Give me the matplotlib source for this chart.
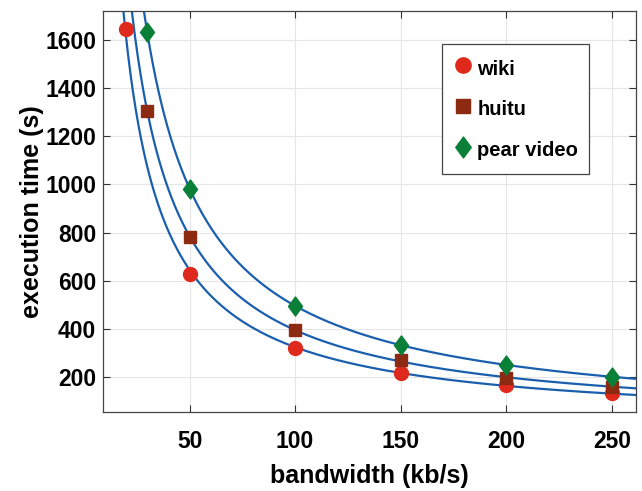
import numpy as np
import matplotlib.pyplot as plt
from matplotlib.path import Path

bw_wiki = np.array([20, 50, 100, 150, 200, 250])
t_wiki = np.array([1648, 626, 318, 214, 165, 131])

bw_huitu = np.array([30, 50, 100, 150, 200, 250])
t_huitu = np.array([1305, 780, 395, 268, 196, 158])

bw_pear = np.array([30, 50, 100, 150, 200, 250])
t_pear = np.array([1635, 980, 495, 332, 249, 200])

xticks = [50, 100, 150, 200, 250]
yticks = [200, 400, 600, 800, 1000, 1200, 1400, 1600]

plt.rcParams['font.family'] = ['Liberation Sans', 'DejaVu Sans']
plt.rcParams['font.weight'] = 'bold'

c_line = '#1a5fae'
c_wiki = '#e0291d'
c_huitu = '#8c2a12'
c_pear = '#0a7f38'

diamond = Path([(0, 1), (0.74, 0), (0, -1), (-0.74, 0), (0, 1)],
               [Path.MOVETO, Path.LINETO, Path.LINETO, Path.LINETO, Path.CLOSEPOLY])


def power_fit(x, y, xs):
    # y = a * x^b, fitted in log space
    b, lna = np.polyfit(np.log(x), np.log(y), 1)
    return np.exp(lna) * xs ** b


fig = plt.figure(figsize=(6.42, 4.91), dpi=100, facecolor='white')
ax = fig.add_axes([0.1604, 0.1603, 0.8303, 0.8173])

xs = np.linspace(9, 261.5, 600)
for bw, tt in [(bw_wiki, t_wiki), (bw_huitu, t_huitu), (bw_pear, t_pear)]:
    ax.plot(xs, power_fit(bw, tt, xs), '-', color=c_line, lw=1.6, zorder=2)

ax.plot(bw_wiki, t_wiki, 'o', ms=10, color=c_wiki, mec=c_wiki,
        ls='none', label='wiki', zorder=3)
ax.plot(bw_huitu, t_huitu, 's', ms=8.6, color=c_huitu, mec=c_huitu,
        ls='none', label='huitu', zorder=3)
ax.plot(bw_pear, t_pear, marker=diamond, ms=13.7, color=c_pear, mec=c_pear,
        ls='none', label='pear video', zorder=3)

ax.set_xlim(9, 261.5)
ax.set_ylim(52, 1722)
ax.set_xticks(xticks)
ax.set_yticks(yticks)

ax.grid(True, color='#e6e6e6', lw=0.8)
ax.set_axisbelow(True)

ax.tick_params(direction='in', top=True, right=True, length=5,
               width=0.8, color='#333333', labelsize=16.5, pad=13)
ax.tick_params(axis='y', pad=5)
for s in ax.spines.values():
    s.set_color('#444444')
    s.set_linewidth(0.9)

ax.set_xlabel('bandwidth (kb/s)', fontsize=18, fontweight='bold', labelpad=8)
ax.set_ylabel('execution time (s)', fontsize=18, fontweight='bold', labelpad=1)

leg = ax.legend(loc='upper right', bbox_to_anchor=(0.912, 0.918),
                borderaxespad=0, fancybox=False, edgecolor='#444444',
                fontsize=14.5, labelspacing=0.75, handlelength=0.95,
                handleheight=1.6, handletextpad=0.25, borderpad=0.55,
                markerscale=1.1, framealpha=1)
leg.get_frame().set_linewidth(0.9)

fig.savefig('out.png', dpi=100, facecolor='white')
